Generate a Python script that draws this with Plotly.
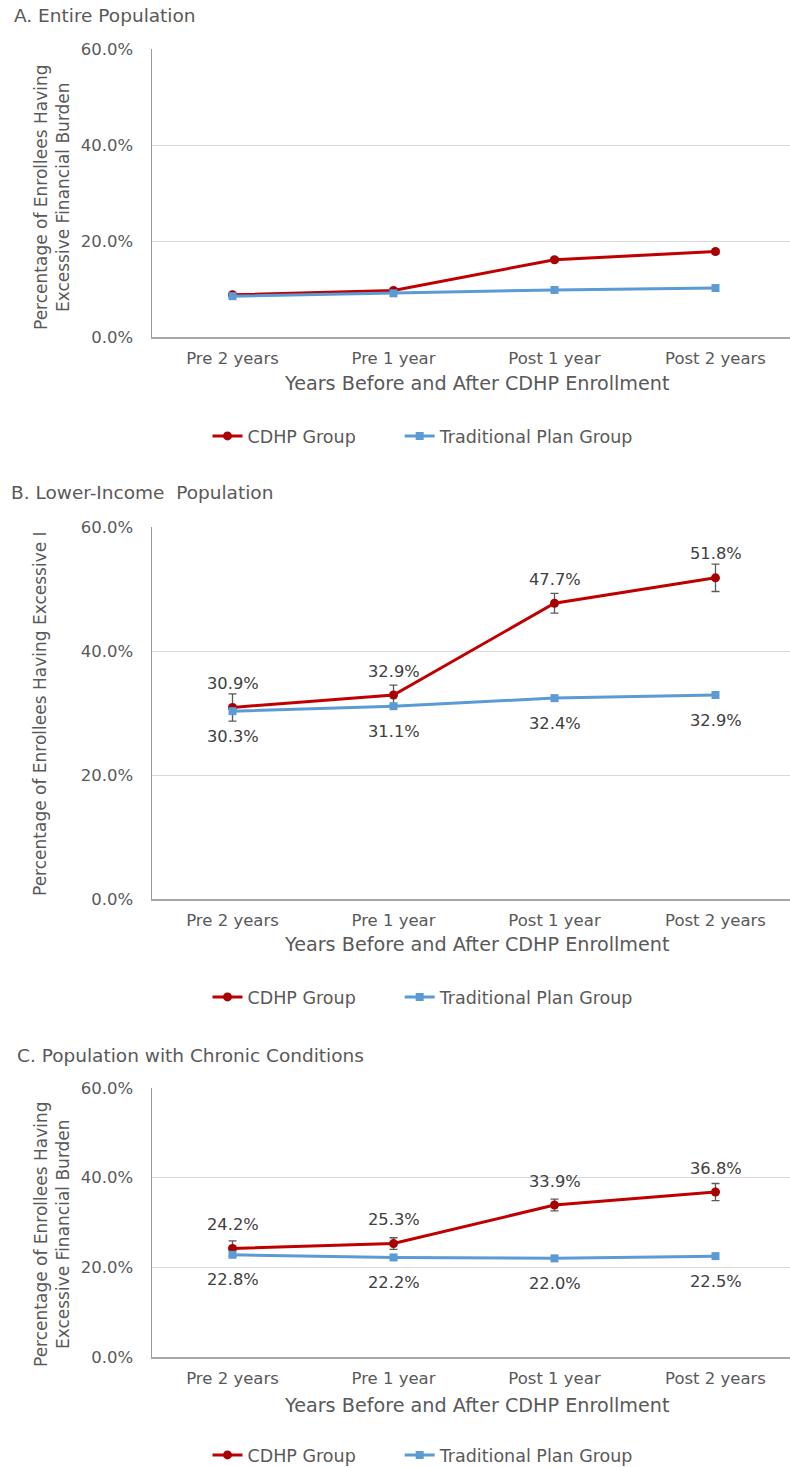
import plotly.graph_objects as go

categories = ["Pre 2 years", "Pre 1 year", "Post 1 year", "Post 2 years"]

# Panel A: Entire population
a_cdhp = [8.8, 9.7, 16.1, 17.8]
a_cdhp_err = [0.3, 0.3, 0.4, 0.5]
a_trad = [8.5, 9.1, 9.8, 10.2]

# Panel B: Lower-income population
b_cdhp = [30.9, 32.9, 47.7, 51.8]
b_cdhp_err = [2.2, 1.6, 1.6, 2.2]
b_trad = [30.3, 31.1, 32.4, 32.9]

# Panel C: Population with chronic conditions
c_cdhp = [24.2, 25.3, 33.9, 36.8]
c_cdhp_err = [1.7, 1.3, 1.3, 1.9]
c_trad = [22.8, 22.2, 22.0, 22.5]

panel_titles = ["A. Entire Population", "B. Lower-Income  Population",
                "C. Population with Chronic Conditions"]
y_titles = ["Percentage of Enrollees Having<br>Excessive Financial Burden",
            "Percentage of Enrollees Having Excessive I",
            "Percentage of Enrollees Having<br>Excessive Financial Burden"]
x_title = "Years Before and After CDHP Enrollment"
series_names = ["CDHP Group" + "\u00a0" * 7, "Traditional Plan Group"]
y_ticks = [0, 20, 40, 60]

W, H = 790, 1467
RED, RED_MK, BLUE = "#C00000", "#A80000", "#5B9BD5"
GREY = "#595959"
FONT = "DejaVu Sans"


def px(x):
    return x / W


def py(y):
    return 1 - y / H


# reference pixel layout of panels: (plot top, plot bottom)
panels = [(49, 337), (527, 899), (1088, 1357)]
title_pos = [(12, 16), (9, 492), (15, 1055)]
ytitle_pos = [(52, 197), (40, 714), (52, 1234)]
xtitle_y = [384, 945, 1405]
legend_y = [436, 997, 1455]
label_panels = [False, True, True]

data = [(a_cdhp, a_cdhp_err, a_trad), (b_cdhp, b_cdhp_err, b_trad),
        (c_cdhp, c_cdhp_err, c_trad)]

fig = go.Figure()
annotations = []
x_left = 152
bin_w = 161

for i, ((top, bot), (cd, cde, tr)) in enumerate(zip(panels, data)):
    n = "" if i == 0 else str(i + 1)
    xa, ya = "x" + n, "y" + n
    leg = "legend" + n
    fig.add_trace(go.Scatter(
        x=categories, y=cd, name=series_names[0], mode="lines+markers",
        line=dict(color=RED, width=3), marker=dict(color=RED_MK, size=9, symbol="circle"),
        error_y=dict(type="data", array=cde, visible=True, color=GREY, thickness=1.3, width=4),
        xaxis=xa, yaxis=ya, legend=leg))
    fig.add_trace(go.Scatter(
        x=categories, y=tr, name=series_names[1], mode="lines+markers",
        line=dict(color=BLUE, width=3), marker=dict(color=BLUE, size=8, symbol="square"),
        xaxis=xa, yaxis=ya, legend=leg))

    fig.layout["xaxis" + n] = dict(
        domain=[px(x_left), 1], anchor=ya, type="category",
        range=[-0.5, (W - x_left) / bin_w - 0.5],
        showline=True, linecolor="#A6A6A6", linewidth=1.5, showgrid=False,
        ticks="", tickfont=dict(family=FONT, size=16.5, color=GREY),
        ticklabelstandoff=6, fixedrange=True)
    fig.layout["yaxis" + n] = dict(
        domain=[py(bot), py(top)], anchor=xa, range=[0, 60], tickvals=y_ticks,
        ticktext=[f"{v:.1f}%" for v in y_ticks],
        showline=True, linecolor="#999999", linewidth=1.5,
        showgrid=True, gridcolor="#D9D9D9", gridwidth=1, zeroline=False,
        ticks="", tickfont=dict(family=FONT, size=16.5, color=GREY),
        ticklabelstandoff=14, fixedrange=True)

    fig.layout[leg] = dict(
        orientation="h", x=px(423), xanchor="center", y=py(legend_y[i]),
        yanchor="middle", font=dict(family=FONT, size=17.5, color=GREY),
        bgcolor="rgba(0,0,0,0)")

    annotations.append(dict(text=panel_titles[i], xref="paper", yref="paper",
                            x=px(title_pos[i][0]), y=py(title_pos[i][1]),
                            xanchor="left", yanchor="middle", showarrow=False,
                            font=dict(family=FONT, size=18.5, color=GREY)))
    annotations.append(dict(text=y_titles[i], xref="paper", yref="paper",
                            x=px(ytitle_pos[i][0]), y=py(ytitle_pos[i][1]),
                            xanchor="center", yanchor="middle", textangle=-90,
                            showarrow=False,
                            font=dict(family=FONT, size=17, color=GREY)))
    annotations.append(dict(text=x_title, xref="paper", yref="paper",
                            x=px(477), y=py(xtitle_y[i]),
                            xanchor="center", yanchor="middle", showarrow=False,
                            font=dict(family=FONT, size=19.2, color=GREY)))
    if label_panels[i]:
        for c, v in zip(categories, cd):
            annotations.append(dict(text=f"{v:.1f}%", x=c, y=v, xref=xa, yref=ya,
                                    yshift=24, showarrow=False,
                                    font=dict(family=FONT, size=16.3, color="#404040")))
        for c, v in zip(categories, tr):
            annotations.append(dict(text=f"{v:.1f}%", x=c, y=v, xref=xa, yref=ya,
                                    yshift=-25, showarrow=False,
                                    font=dict(family=FONT, size=16.3, color="#404040")))

fig.update_layout(width=W, height=H,
                  margin=dict(l=0, r=0, t=0, b=0, autoexpand=False),
                  paper_bgcolor="white", plot_bgcolor="white",
                  annotations=annotations, showlegend=True)

fig.write_html(
    "out.html",
    config={"displayModeBar": False, "staticPlot": True},
    post_script=(
        "var d=document.getElementById('{plot_id}');"
        "d.style.position='fixed';d.style.top='0px';d.style.left='0px';"
        "document.documentElement.style.margin='0px';"
        "document.documentElement.style.overflow='hidden';"
        "document.body.style.margin='0px';"
        "document.body.style.overflow='hidden';"
    ),
)
